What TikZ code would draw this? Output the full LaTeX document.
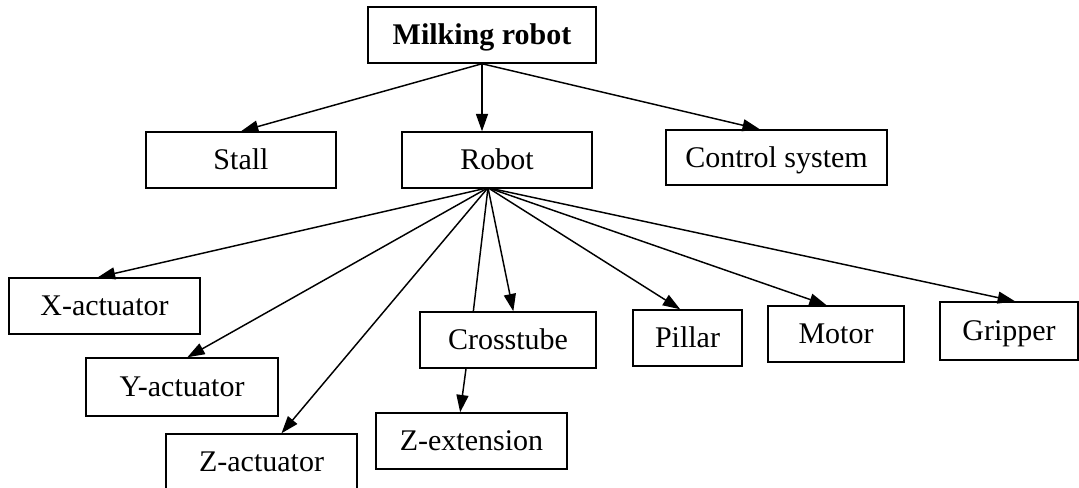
\documentclass[tikz,border=0pt]{standalone}
\usepackage{fontspec}
\setmainfont{Liberation Serif}
\usetikzlibrary{arrows.meta}

\begin{document}
\begin{tikzpicture}[x=0.75pt,y=0.75pt,yscale=-1,xscale=1,
  box/.style={draw,line width=1.1pt,inner sep=0pt,minimum height=42pt,
    text height=14.9pt,text depth=0pt,font=\fontsize{22.5}{27}\selectfont},
  arr/.style={line width=1.1pt,-{Triangle[length=13pt,width=9pt]}},
  ln/.style={line width=1.1pt}]
\useasboundingbox (0,0) rectangle (1079,487);

% Top level
\node [box,minimum width=171pt] (milk) at (482,35) {\textbf{Milking robot}};
% Second level
\node [box,minimum width=142.5pt] (stall) at (241,160) {Stall};
\node [box,minimum width=142.5pt] (robot) at (497,160) {Robot};
\node [box,minimum width=165.75pt,minimum height=41.25pt] (ctrl) at (776.5,157.5) {Control system};
% Robot parts
\node [box,minimum width=143.25pt] (xact) at (104.5,306) {X-actuator};
\node [box,minimum width=144pt,minimum height=43.5pt] (yact) at (182,387) {Y-actuator};
\node [box,minimum width=143.25pt] (zact) at (261.5,462) {Z-actuator};
\node [box,minimum width=132pt] (cross) at (508,340) {Crosstube};
\node [box,minimum width=143.25pt] (zext) at (471.5,441) {Z-extension};
\node [box,minimum width=81.75pt] (pillar) at (687.5,338) {Pillar};
\node [box,minimum width=102pt] (motor) at (836,334) {Motor};
\node [box,minimum width=103.5pt,minimum height=43.5pt] (grip) at (1009,331) {Gripper};

% Connectors from the top box
\draw [arr] (milk.south) -- (stall.north);
\draw [arr] (milk.south) -- (milk.south |- robot.north);
\draw [arr] (milk.south) -- ([xshift=-12.5pt]ctrl.north);

% Connectors from the robot box
\coordinate (hub) at ([xshift=-6.75pt,yshift=-0.75pt]robot.south);
\draw [arr] (hub) -- ([xshift=-5pt]xact.north);
\draw [arr] (hub) -- ([xshift=4pt]yact.north);
\draw [arr] (hub) -- ([xshift=15pt]zact.north);
\draw [ln] (hub) -- ([xshift=-26pt]cross.north);
\draw [arr] (hub) -- ([xshift=4pt]cross.north);
\draw [arr] (hub) -- ([xshift=-5.5pt]pillar.north);
\draw [arr] (hub) -- ([xshift=-7pt]motor.north);
\draw [arr] (hub) -- ([xshift=4.5pt]grip.north);

% Crosstube to extension
\draw [arr] ([xshift=-31.5pt]cross.south) -- ([xshift=-8.5pt]zext.north);

\end{tikzpicture}
\end{document}
